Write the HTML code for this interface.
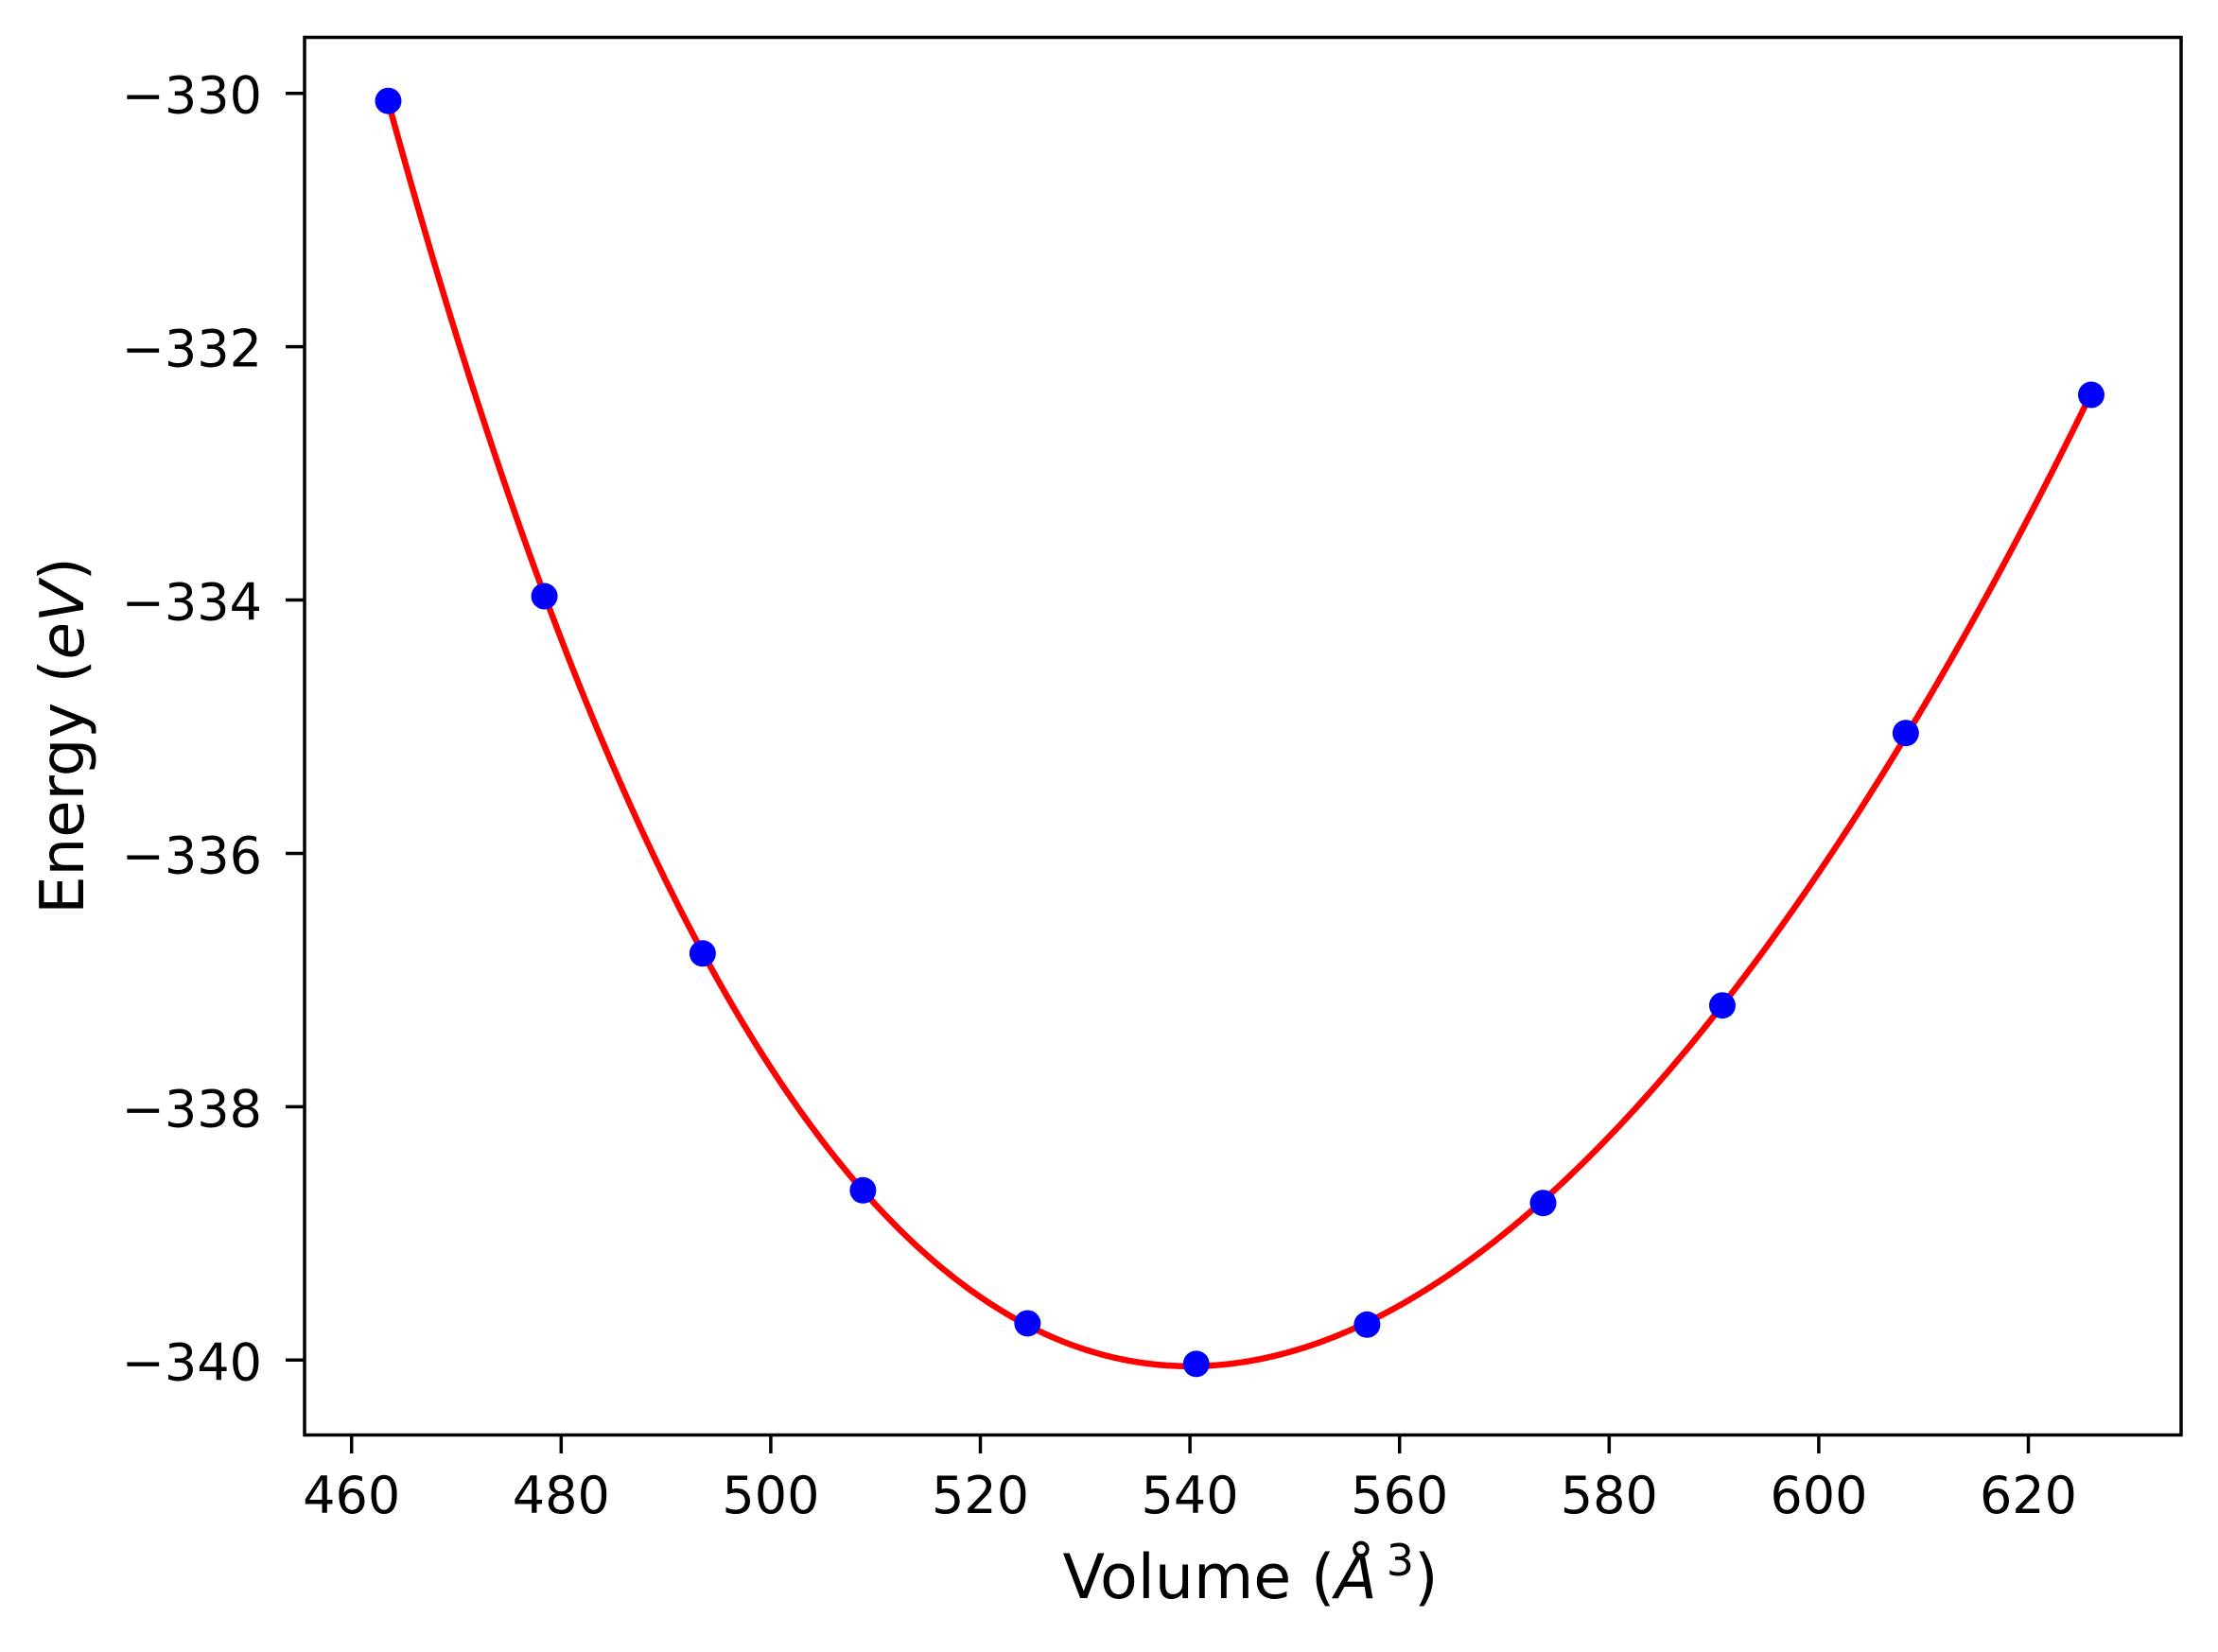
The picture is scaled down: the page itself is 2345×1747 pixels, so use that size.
<!DOCTYPE html>
<html><head><meta charset="utf-8"><style>
html,body{margin:0;padding:0;background:#fff;}
svg{display:block;}
text{font-family:"DejaVu Sans","Liberation Sans",sans-serif;fill:#000;}
</style></head><body>
<svg id="s" width="2345" height="1747" viewBox="0 0 2345 1747" xmlns="http://www.w3.org/2000/svg">
<rect width="2345" height="1747" fill="#fff"/>
<g id="ticks" stroke="#000" stroke-width="3.5"></g>
<g id="labels" font-size="54"></g>
<path id="curve" fill="none" stroke="#ff0000" stroke-width="6.5" stroke-linejoin="round"/>
<g id="pts" fill="#0000ff"></g>
<rect x="322" y="39.5" width="1984" height="1478" fill="none" stroke="#000" stroke-width="3.5"/>
<text x="1322" y="1690" font-size="65" text-anchor="middle">Volume (<tspan font-style="italic">Å</tspan><tspan font-size="46" dx="10" dy="-24">3</tspan><tspan dy="24">)</tspan></text>
<text transform="translate(88,778) rotate(-90)" font-size="64" text-anchor="middle">Energy (<tspan font-style="italic">eV</tspan>)</text>
</svg>
<script>
var NS="http://www.w3.org/2000/svg";
function X(v){return 371.7+(v-460)*11.08;}
function Y(e){return 98.7+(-330-e)*133.96;}
var tk=document.getElementById('ticks'),lb=document.getElementById('labels');
function el(p,n,a,t){var e=document.createElementNS(NS,n);for(var k in a)e.setAttribute(k,a[k]);if(t)e.textContent=t;p.appendChild(e);return e;}
for(var v=460;v<=620;v+=20){var x=X(v);el(tk,'line',{x1:x,y1:1517,x2:x,y2:1537});el(lb,'text',{x:x,y:1600,'text-anchor':'middle'},String(v));}
for(var e=-330;e>=-340;e-=2){var y=Y(e);el(tk,'line',{x1:302,y1:y,x2:322,y2:y});el(lb,'text',{x:277,y:y+21,'text-anchor':'end'},'\u2212'+(-e));}
var P=[[463.5,-330.06],[478.4,-333.97],[493.5,-336.79],[508.8,-338.66],[524.5,-339.71],[540.6,-340.03],[556.9,-339.72],[573.7,-338.76],[590.8,-337.20],[608.3,-335.05],[626.0,-332.38]];
// quartic least squares fit
var n=5,A=[],b=[];for(var i=0;i<n;i++){A.push(new Array(n).fill(0));b.push(0);}
P.forEach(function(p){var t=(p[0]-545)/80;var pw=[];for(var k=0;k<2*n;k++)pw.push(Math.pow(t,k));
for(var i=0;i<n;i++){for(var j=0;j<n;j++)A[i][j]+=pw[i+j];b[i]+=pw[i]*p[1];}});
for(var i=0;i<n;i++){var m=i;for(var r=i+1;r<n;r++)if(Math.abs(A[r][i])>Math.abs(A[m][i]))m=r;
var tmp=A[i];A[i]=A[m];A[m]=tmp;var tb=b[i];b[i]=b[m];b[m]=tb;
for(var r=0;r<n;r++)if(r!=i){var f=A[r][i]/A[i][i];for(var c=i;c<n;c++)A[r][c]-=f*A[i][c];b[r]-=f*b[i];}}
var co=b.map(function(v,i){return v/A[i][i];});
function E(v){var t=(v-545)/80,s=0;for(var k=0;k<n;k++)s+=co[k]*Math.pow(t,k);return s;}
var d='';for(var v=463.5;v<=626.01;v+=0.5){d+=(d?'L':'M')+X(v).toFixed(2)+','+Y(E(v)).toFixed(2);}
document.getElementById('curve').setAttribute('d',d);
var g=document.getElementById('pts');P.forEach(function(p){el(g,'circle',{cx:X(p[0]),cy:Y(p[1]),r:14});});
</script>
</body></html>
